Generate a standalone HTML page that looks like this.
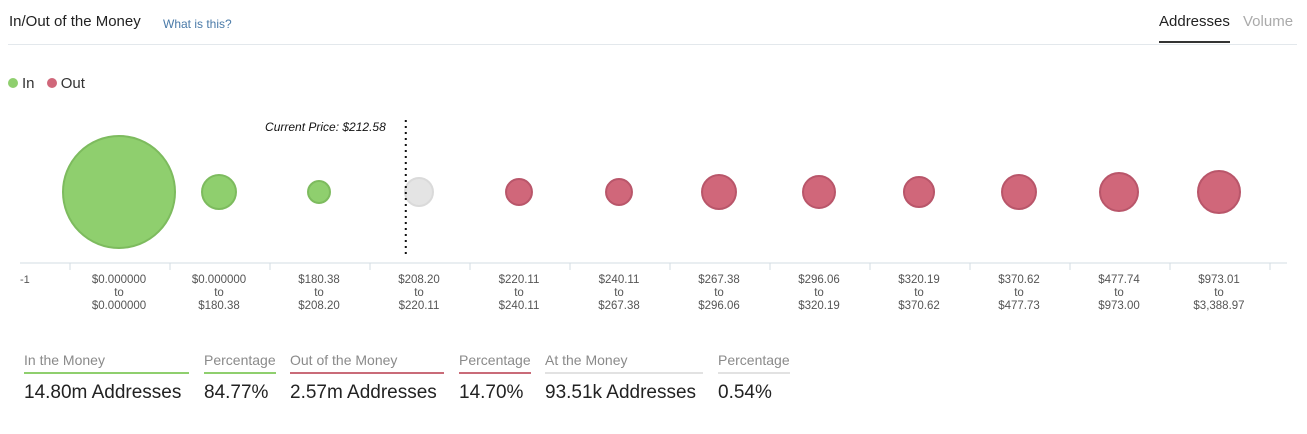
<!DOCTYPE html>
<html><head><meta charset="utf-8"><style>
body{margin:0;background:#fff;font-family:"Liberation Sans",sans-serif;}
#root{position:relative;width:1307px;height:434px;overflow:hidden;}
.abs{position:absolute;white-space:nowrap;}
.sum{position:absolute;top:352px;}
.sum .l{font-size:14px;color:#8a8a8a;padding-bottom:4px;border-bottom:2px solid;}
.sum .v{font-size:19px;color:#222;margin-top:8px;}
</style></head><body>
<div id="root">
<div class="abs" style="left:9px;top:13px;font-size:15px;color:#222">In/Out of the Money</div>
<div class="abs" style="left:163px;top:17px;font-size:12px;color:#4a7aa8">What is this?</div>
<div class="abs" style="left:1159px;top:13px;font-size:15px;color:#222;border-bottom:2px solid #333;padding-bottom:11px">Addresses</div>
<div class="abs" style="left:1243px;top:13px;font-size:15px;color:#aaa">Volume</div>
<div class="abs" style="left:8px;top:44px;width:1289px;height:1px;background:#e3e8ec"></div>
<div class="abs" style="left:8px;top:75px;font-size:15px;color:#333">
<span><span style="display:inline-block;width:10px;height:10px;border-radius:50%;background:#8fcf6e;margin-right:4px"></span>In</span>
<span style="margin-left:8px"><span style="display:inline-block;width:10px;height:10px;border-radius:50%;background:#d0677a;margin-right:4px"></span>Out</span>
</div>
<svg id="chart" class="abs" style="left:0;top:0" width="1307" height="330"></svg>
<div class="sum" style="left:24px;width:165px"><div class="l" style="border-color:#8fcf6e">In the Money</div><div class="v">14.80m Addresses</div></div>
<div class="sum" style="left:204px;width:72px"><div class="l" style="border-color:#8fcf6e">Percentage</div><div class="v">84.77%</div></div>
<div class="sum" style="left:290px;width:154px"><div class="l" style="border-color:#c96b78">Out of the Money</div><div class="v">2.57m Addresses</div></div>
<div class="sum" style="left:459px;width:72px"><div class="l" style="border-color:#c96b78">Percentage</div><div class="v">14.70%</div></div>
<div class="sum" style="left:545px;width:158px"><div class="l" style="border-color:#e2e2e2">At the Money</div><div class="v">93.51k Addresses</div></div>
<div class="sum" style="left:718px;width:72px"><div class="l" style="border-color:#e2e2e2">Percentage</div><div class="v">0.54%</div></div>
</div>
<script>
const rangeFrom=["$0.000000","$0.000000","$180.38","$208.20","$220.11","$240.11","$267.38","$296.06","$320.19","$370.62","$477.74","$973.01"];
const rangeTo=["$0.000000","$180.38","$208.20","$220.11","$240.11","$267.38","$296.06","$320.19","$370.62","$477.73","$973.00","$3,388.97"];
const status=["in","in","in","at","out","out","out","out","out","out","out","out"];
const addresses=[12.5,1.15,0.48,0.78,0.67,0.67,1.15,1.02,0.90,1.15,1.44,1.76];
const currentPrice="$212.58";
const ns="http://www.w3.org/2000/svg";
const svg=document.getElementById('chart');
const x=i=>119+i*100, cy=192, rScale=v=>15.84*Math.sqrt(v);
const fill={in:"#8fcf6e",out:"#d0677a",at:"#e4e4e4"}, stroke={in:"#7dbb5e",out:"#b9566a",at:"#dadada"};
function mk(t,a){const e=document.createElementNS(ns,t);for(const k in a)e.setAttribute(k,a[k]);svg.appendChild(e);return e;}
let ax=mk('line',{x1:20,x2:1287,y1:263,y2:263,stroke:'#d3dce3'});


for(let i=0;i<=12;i++){let t=mk('line',{x1:70+i*100,x2:70+i*100,y1:263,y2:270,stroke:'#d3dce3'});

}
let m=mk('text',{x:20,y:283,'font-size':11,fill:'#555'});m.textContent='-1';


addresses.forEach((v,i)=>{
 let c=mk('circle',{cx:x(i),cy:cy,r:rScale(v),fill:fill[status[i]],stroke:stroke[status[i]],'stroke-width':2});
 
 
 [rangeFrom[i],'to',rangeTo[i]].forEach((s,j)=>{
  let t=mk('text',{x:x(i),y:283+j*13,'font-size':11.5,fill:'#555','text-anchor':'middle'});t.textContent=s;
  
  
 });
});
let lo=parseFloat(rangeFrom[3].slice(1)),hi=parseFloat(rangeTo[3].slice(1)),p=parseFloat(currentPrice.slice(1));
let px=x(3)-50+(p-lo)/(hi-lo)*100;
let dl=mk('line',{x1:px,x2:px,y1:120,y2:258,stroke:'#111','stroke-width':2,'stroke-dasharray':'2,4'});


let cl=mk('text',{x:px-20,y:131,'font-size':12,'font-style':'italic',fill:'#111','text-anchor':'end'});cl.textContent='Current Price: '+currentPrice;


</script>
</body></html>
